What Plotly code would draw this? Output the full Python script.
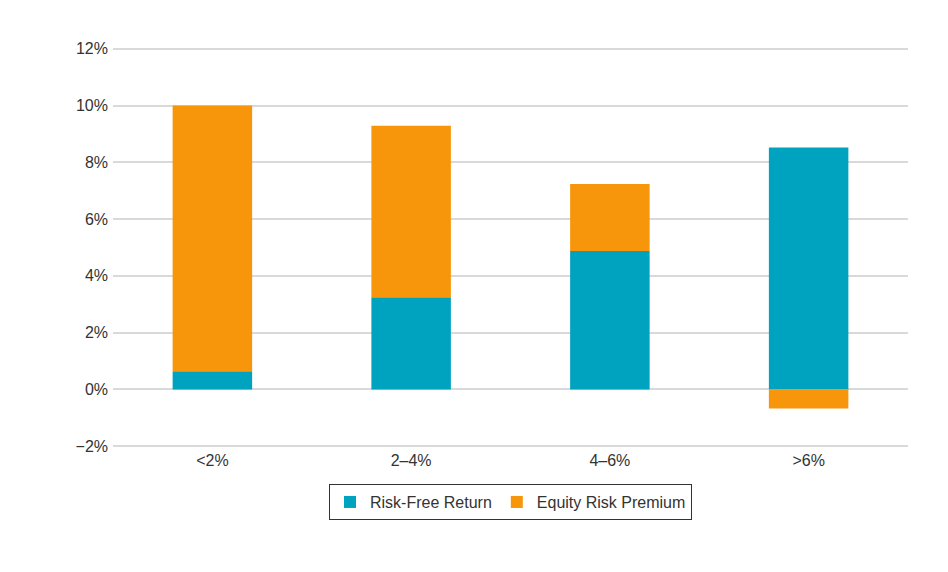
import plotly.graph_objects as go

categories = ["<2%", "2–4%", "4–6%", ">6%"]
risk_free = [0.64, 3.25, 4.88, 8.52]
equity_premium = [9.36, 6.04, 2.36, -0.67]
y_ticks = [-2, 0, 2, 4, 6, 8, 10, 12]
y_tick_labels = ["−2%", "0%", "2%", "4%", "6%", "8%", "10%", "12%"]

fig = go.Figure()
fig.add_trace(go.Bar(x=categories, y=risk_free, name="Risk-Free Return",
                     marker=dict(color="#00A3BF", line=dict(width=0)), width=0.4))
fig.add_trace(go.Bar(x=categories, y=equity_premium, name="Equity Risk Premium",
                     marker=dict(color="#F7960A", line=dict(width=0)), width=0.4))

fig.update_layout(
    barmode="relative",
    width=940, height=564,
    margin=dict(l=105, r=40, t=38, b=123),
    paper_bgcolor="white", plot_bgcolor="white",
    font=dict(family="Liberation Sans, Arial, sans-serif", size=16, color="#333333"),
    showlegend=True,
    legend=dict(orientation="h", x=0.5, xanchor="center", y=-0.087, yanchor="top",
                bordercolor="#333333", borderwidth=1, font=dict(size=16),
                traceorder="normal", itemwidth=30, tracegroupgap=0),
    xaxis=dict(showgrid=False, showline=False, ticks="", tickfont=dict(size=16)),
    yaxis=dict(range=[-2.1, 12.1], tickvals=y_ticks, ticktext=y_tick_labels,
               showgrid=True, gridcolor="#D9D9D9", gridwidth=1.5,
               zeroline=True, zerolinecolor="#D9D9D9", zerolinewidth=1.5,
               showline=False, ticks="", ticklen=0, tickfont=dict(size=16),
               ticklabelstandoff=4),
    bargap=0.6,
)

fig.write_html("out.html")
